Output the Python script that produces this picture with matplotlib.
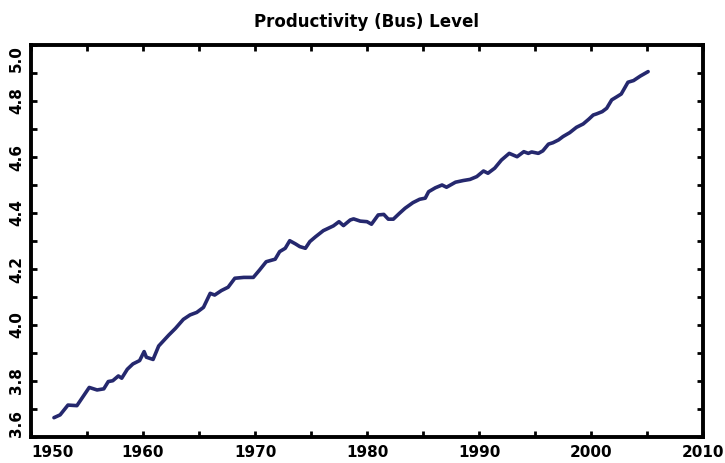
import numpy as np
import matplotlib.pyplot as plt
from matplotlib.ticker import MultipleLocator

# values
years = [1952.05, 1952.6, 1953.3, 1954.1, 1955.2, 1955.9, 1956.5, 1956.9, 1957.3,
         1957.8, 1958.1, 1958.6, 1959.1, 1959.7, 1960.1, 1960.3, 1960.9, 1961.4,
         1962.3, 1962.9, 1963.6, 1964.2, 1964.8, 1965.1, 1965.4, 1966.0, 1966.4,
         1967.0, 1967.6, 1968.2, 1969.0, 1969.85, 1970.4, 1971.0, 1971.8, 1972.2,
         1972.7, 1973.1, 1973.6, 1974.0, 1974.5, 1974.9, 1975.4, 1976.1, 1977.0,
         1977.5, 1977.9, 1978.5, 1978.8, 1979.4, 1980.0, 1980.4, 1981.0, 1981.5,
         1981.9, 1982.35, 1982.9, 1983.4, 1984.1, 1984.7, 1985.2, 1985.5, 1986.1,
         1986.7, 1987.1, 1987.9, 1988.6, 1989.2, 1989.8, 1990.4, 1990.8, 1991.4,
         1992.0, 1992.7, 1993.4, 1994.0, 1994.4, 1994.7, 1995.3, 1995.7, 1996.2,
         1996.6, 1997.1, 1997.5, 1998.1, 1998.7, 1999.3, 1999.8, 2000.2, 2000.5,
         2001.0, 2001.4, 2001.85, 2002.3, 2002.7, 2003.3, 2003.8, 2004.4, 2005.1]
level = [3.669, 3.679, 3.714, 3.712, 3.777, 3.768, 3.772, 3.798, 3.801,
         3.818, 3.810, 3.842, 3.861, 3.873, 3.905, 3.885, 3.877, 3.925,
         3.964, 3.988, 4.020, 4.036, 4.045, 4.054, 4.063, 4.113, 4.107,
         4.123, 4.135, 4.167, 4.170, 4.170, 4.196, 4.226, 4.235, 4.262,
         4.274, 4.301, 4.290, 4.280, 4.274, 4.298, 4.315, 4.337, 4.354,
         4.369, 4.355, 4.375, 4.379, 4.371, 4.369, 4.360, 4.393, 4.395,
         4.378, 4.378, 4.399, 4.417, 4.437, 4.449, 4.453, 4.476, 4.490,
         4.500, 4.492, 4.510, 4.516, 4.520, 4.530, 4.550, 4.542, 4.560,
         4.589, 4.613, 4.601, 4.619, 4.613, 4.618, 4.613, 4.622, 4.646,
         4.651, 4.661, 4.673, 4.687, 4.706, 4.718, 4.735, 4.750, 4.754,
         4.762, 4.774, 4.804, 4.815, 4.825, 4.867, 4.873, 4.889, 4.905]

xticks = [1950, 1960, 1970, 1980, 1990, 2000, 2010]
yticks = [3.6, 3.8, 4.0, 4.2, 4.4, 4.6, 4.8, 5.0]

plt.rcParams['font.family'] = 'DejaVu Sans'
plt.rcParams['font.weight'] = 'bold'

fig = plt.figure(figsize=(7.25, 4.63), dpi=100)
ax = fig.add_axes([31 / 725, 26 / 463, 672 / 725, 392 / 463])

ax.plot(years, level, color='#25286e', lw=2.6, solid_capstyle='round')

ax.set_xlim(1950, 2010)
ax.set_ylim(3.6, 5.0)
ax.set_xticks(xticks)
ax.set_yticks(yticks)
ax.xaxis.set_minor_locator(MultipleLocator(5))
ax.yaxis.set_minor_locator(MultipleLocator(0.1))
ax.set_xticklabels([str(v) for v in xticks], fontsize=11, fontweight='heavy')
ax.set_yticklabels(['%.1f' % v for v in yticks], fontsize=11, fontweight='heavy',
                   rotation=90, va='center')
ax.tick_params(which='both', direction='in', top=True, right=True,
               width=2, length=4, color='black')
ax.tick_params(axis='x', which='major', pad=6)
ax.tick_params(axis='y', which='major', pad=5)
ax.tick_params(labelright=False, labeltop=False)

xl = ax.get_xticklabels()
xl[0].set_ha('left')
yl = ax.get_yticklabels()
yl[0].set_va('bottom')
yl[-1].set_va('top')

for sp in ax.spines.values():
    sp.set_linewidth(2.8)

ax.set_title('Productivity (Bus) Level', fontsize=12, fontweight='heavy', pad=13)

fig.savefig('out.png', dpi=100)
